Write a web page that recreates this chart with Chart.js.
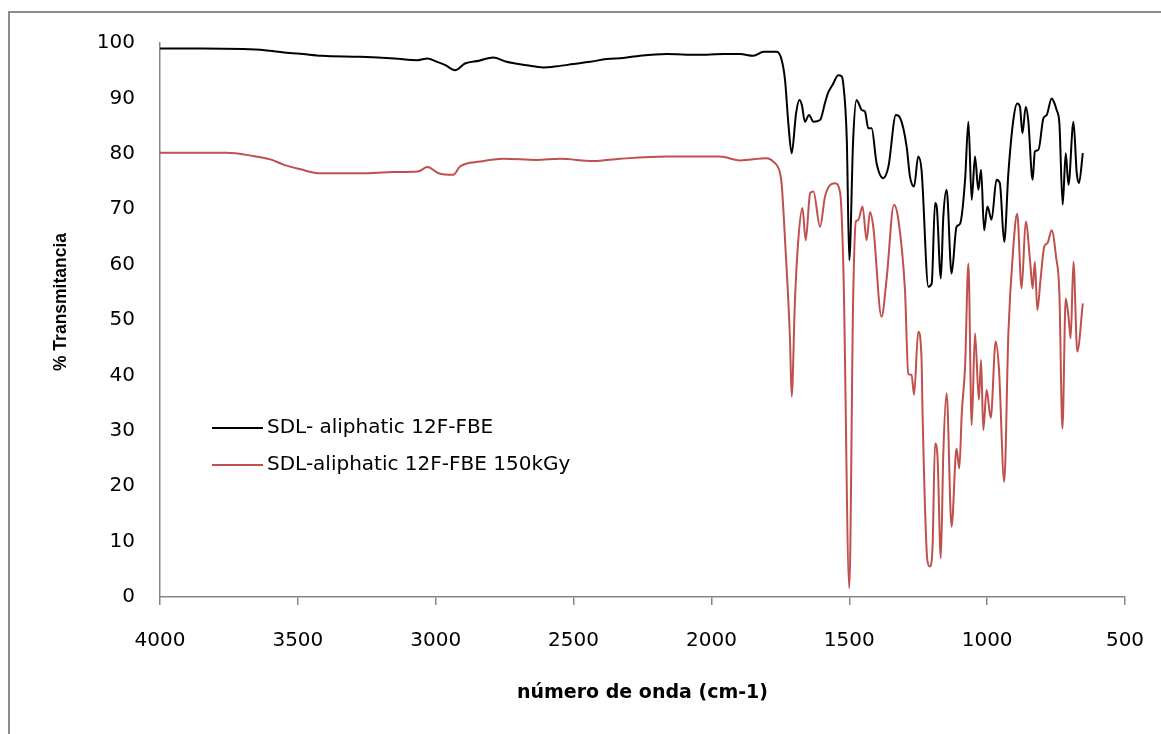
<!DOCTYPE html>
<html>
<head>
<meta charset="utf-8">
<script src="https://cdn.jsdelivr.net/npm/chart.js@4/dist/chart.umd.min.js"></script>
<style>
html,body{margin:0;padding:0;background:#fff;overflow:hidden;}
#wrap{position:absolute;left:0;top:0;width:1161px;height:734px;}
</style>
</head>
<body>
<div id="wrap"><canvas id="c" width="1161" height="734"></canvas></div>
<script>
// ---- data (wavenumber cm-1, % transmittance) ----
const seriesNames = ["SDL- aliphatic 12F-FBE", "SDL-aliphatic 12F-FBE 150kGy"];
const xTicks = [4000, 3500, 3000, 2500, 2000, 1500, 1000, 500];
const yTicks = [0, 10, 20, 30, 40, 50, 60, 70, 80, 90, 100];
const xTitle = "número de onda (cm-1)";
const yTitle = "% Transmitancia";

const wnBlack = [4000,3850,3700,3620,3550,3481,3412,3273,3150,3065,3030,2995,2965,2930,2894,2843,2791,2743,2670,2610,2560,2501,2440,2380,2320,2259,2162,2090,2017,1955,1896,1848,1811,1763,1745,1733,1721,1709,1693,1681,1672,1661,1646,1630,1606,1588,1577,1560,1540,1528,1522,1509,1500,1486,1474,1465,1455,1443,1431,1419,1401,1377,1358,1331,1316,1292,1280,1265,1250,1238,1213,1201,1189,1183,1168,1159,1147,1129,1111,1098,1080,1068,1056,1044,1032,1022,1011,999,984,966,954,938,923,905,891,881,872,860,851,835,827,814,796,784,766,758,748,738,726,715,705,687,675,667,653];
const tBlack = [99.0,99.0,98.9,98.7,98.3,98.0,97.7,97.5,97.2,96.9,97.2,96.6,96.0,95.1,96.3,96.8,97.4,96.6,96.0,95.6,95.8,96.2,96.6,97.1,97.3,97.7,98.0,97.9,97.9,98.0,98.0,97.7,98.4,98.4,96.9,93.3,85.5,80.1,87.3,89.7,88.8,85.8,87.0,85.8,86.1,89.2,91.0,92.5,94.2,94.0,92.7,82.5,60.8,82.5,89.7,89.0,87.9,87.6,84.6,84.6,78.3,75.6,77.7,87.0,86.5,81.3,75.9,74.1,79.5,77.1,56.0,56.6,71.1,70.5,57.5,68.6,73.5,58.4,66.8,67.4,75.3,85.8,71.7,79.5,73.5,77.1,66.2,70.5,68.1,75.3,74.7,64.1,76.5,86.1,89.1,88.5,83.7,88.5,86.1,75.3,80.4,80.7,86.4,87.0,90.0,89.4,87.9,85.5,70.8,80.1,74.4,85.8,76.5,74.7,80.1];

const wnRed = [4000,3850,3759,3662,3600,3550,3490,3426,3273,3150,3065,3030,2990,2936,2912,2839,2755,2634,2549,2429,2332,2162,1969,1896,1800,1776,1751,1745,1733,1715,1709,1697,1685,1670,1658,1642,1630,1606,1588,1552,1533,1521,1500,1486,1476,1468,1452,1437,1425,1413,1383,1365,1338,1322,1298,1286,1274,1265,1250,1238,1234,1217,1208,1198,1189,1180,1168,1159,1147,1129,1111,1101,1092,1080,1068,1056,1044,1030,1022,1014,1002,987,969,957,938,923,905,891,875,860,844,835,827,818,806,793,781,766,750,738,727,715,705,697,687,673,653];
const tRed = [80.2,80.2,80.2,79.6,79.0,78.0,77.2,76.5,76.5,76.7,76.8,77.6,76.5,76.2,77.7,78.6,79.1,78.9,79.1,78.7,79.1,79.5,79.5,78.8,79.2,78.6,76.5,74.4,64.4,46.4,36.2,53.6,64.4,70.2,64.4,72.9,73.2,66.8,72.3,74.7,72.9,58.4,1.6,53.6,67.8,68.0,70.5,64.4,69.5,66.8,50.6,57.2,70.8,68.1,55.4,40.3,40.1,36.5,47.9,43.1,32.5,6.7,5.5,9.1,27.7,25.3,7.0,25.9,36.8,12.7,26.8,23.2,33.2,41.6,60.2,31.0,47.6,35.6,42.8,30.1,37.4,32.3,46.1,41.0,20.8,47.6,63.2,69.2,55.7,67.8,60.5,55.7,60.5,51.8,57.5,63.2,63.9,66.2,61.4,54.8,30.4,53.9,50.6,46.7,60.5,44.3,53.0];

const toPts = (xs, ys) => xs.map((x, i) => ({x: x, y: ys[i]}));

const frame = {
  id: 'frame',
  beforeDraw(chart) {
    const c = chart.ctx;
    c.save();
    c.fillStyle = '#fff';
    c.fillRect(0, 0, chart.width, chart.height);
    c.strokeStyle = '#8c8c8c';
    c.lineWidth = 2;
    c.strokeRect(9, 12, 1400, 1000);
    c.restore();
  }
};

const extras = {
  id: 'extras',
  afterDraw(chart) {
    const c = chart.ctx;
    const ys = [428, 465];
    c.save();
    chart.data.datasets.forEach((ds, i) => {
      c.strokeStyle = ds.borderColor;
      c.lineWidth = 2;
      c.beginPath();
      c.moveTo(212, ys[i]);
      c.lineTo(263, ys[i]);
      c.stroke();
      c.fillStyle = '#000';
      c.font = '20px "DejaVu Sans"';
      c.textBaseline = 'middle';
      c.textAlign = 'left';
      c.fillText(ds.label, 267, ys[i]);
    });
    // y axis title
    c.translate(61, 302);
    c.rotate(-Math.PI / 2);
    c.font = 'bold 17.5px "Liberation Sans"';
    c.textAlign = 'center';
    c.textBaseline = 'middle';
    c.fillStyle = '#000';
    c.fillText(yTitle, 0, 0);
    c.restore();
  }
};

new Chart(document.getElementById('c'), {
  type: 'line',
  data: {
    datasets: [
      {label: seriesNames[0], data: toPts(wnBlack, tBlack), borderColor: '#000000', borderWidth: 2, pointRadius: 0, cubicInterpolationMode: 'monotone', fill: false},
      {label: seriesNames[1], data: toPts(wnRed, tRed), borderColor: '#c0504d', borderWidth: 2, pointRadius: 0, cubicInterpolationMode: 'monotone', fill: false}
    ]
  },
  options: {
    responsive: false,
    animation: false,
    layout: {padding: {left: 0, right: 36, top: 43, bottom: 0}},
    plugins: {legend: {display: false}, tooltip: {enabled: false}},
    scales: {
      x: {
        type: 'linear', reverse: true, min: 500, max: 4000,
        afterBuildTicks: (s) => { s.ticks = xTicks.map(v => ({value: v})); },
        afterFit: (s) => { s.height = 734 - 597; s.paddingLeft = 0; s.paddingRight = 0; },
        grid: {display: true, drawOnChartArea: false, drawTicks: true, tickLength: 8, color: '#868686', lineWidth: 1.5},
        border: {display: true, color: '#868686', width: 1.5},
        ticks: {color: '#000', padding: 24, maxRotation: 0, font: {family: '"DejaVu Sans"', size: 20}, callback: (v) => String(v)},
        title: {display: true, text: xTitle, color: '#000', font: {family: '"DejaVu Sans"', size: 19, weight: 'bold'}, padding: {top: 0, bottom: 30}}
      },
      y: {
        min: 0, max: 100,
        afterBuildTicks: (s) => { s.ticks = yTicks.map(v => ({value: v})); },
        afterFit: (s) => { s.width = 160; },
        grid: {display: true, drawOnChartArea: false, drawTicks: false, color: '#868686'},
        border: {display: true, color: '#868686', width: 1.5},
        ticks: {color: '#000', padding: 25, font: {family: '"DejaVu Sans"', size: 20}, callback: (v) => String(v)},
        title: {display: false}
      }
    }
  },
  plugins: [frame, extras]
});
</script>
</body>
</html>
